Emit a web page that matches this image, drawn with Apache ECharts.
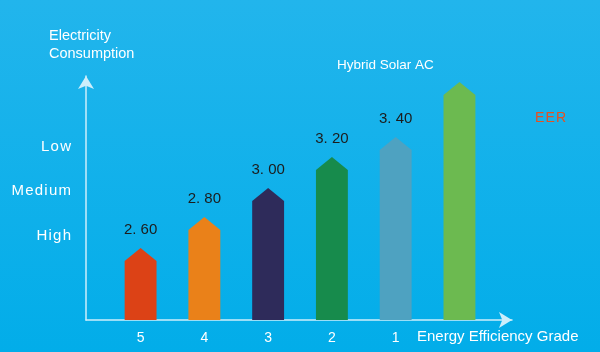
<!DOCTYPE html>
<html>
<head>
<meta charset="utf-8">
<script src="https://cdn.jsdelivr.net/npm/echarts@6/dist/echarts.min.js"></script>
<style>
    html, body { margin: 0; padding: 0; }
    #chart { width: 600px; height: 352px; }
</style>
</head>
<body>
<div id="chart"></div>
<script>
    // energy efficiency grades, left to right
    const grades = ['5', '4', '3', '2', '1', 'Hybrid Solar AC'];
    // arrow tip height of each bar (axis units)
    const peakHeights = [72, 103, 132, 163, 183, 238];
    const eerLabels = ['2. 60', '2. 80', '3. 00', '3. 20', '3. 40', ''];
    const barColors = ['#dc4216', '#ea8119', '#2e2b5a', '#178b4c', '#4ea2c1', '#6cba50'];
    // consumption levels on the y axis
    const levelValues = [84, 129, 173];
    const levelNames = ['H\u200ai\u200ag\u200ah', 'M\u200ae\u200ad\u200ai\u200au\u200am', 'L\u200ao\u200aw'];

    const font = '"Liberation Sans", Arial, sans-serif';
    const tipHeight = 13;
    const barWidth = 0.5;

    let chart = echarts.init(document.getElementById('chart'));

    let seriesData = grades.map((g, i) => [i, peakHeights[i], eerLabels[i]]);

    chart.setOption({
        backgroundColor: new echarts.graphic.LinearGradient(0, 0, 0, 1, [
            {offset: 0, color: '#22b5ec'},
            {offset: 1, color: '#02ade9'}
        ]),
        grid: {left: 86, right: 88, top: 76, bottom: 32},
        xAxis: {
            type: 'value',
            min: -0.856,
            max: 5.824,
            splitLine: {show: false},
            axisTick: {show: false},
            axisLine: {
                show: true,
                onZero: false,
                symbol: ['none', 'arrow'],
                symbolSize: [12, 13],
                lineStyle: {color: '#cdeefb', width: 1.5}
            },
            axisLabel: {
                customValues: [0, 1, 2, 3, 4],
                formatter: function (v) { return grades[Math.round(v)]; },
                color: '#ffffff',
                fontSize: 14,
                fontFamily: font,
                margin: 11
            }
        },
        yAxis: {
            type: 'value',
            min: 0,
            max: 244,
            splitLine: {show: false},
            axisTick: {show: false},
            axisLine: {
                show: true,
                onZero: false,
                symbol: ['none', 'arrow'],
                symbolSize: [12, 13],
                lineStyle: {color: '#cdeefb', width: 1.5}
            },
            axisLabel: {
                customValues: levelValues,
                formatter: function (v) { return levelNames[levelValues.indexOf(v)]; },
                color: '#ffffff',
                fontSize: 15,
                fontFamily: font,
                margin: 15
            }
        },
        graphic: [
            {type: 'text', left: 49, top: 27, style: {text: 'Electricity\nConsumption', fill: '#fff', font: '14.5px ' + font, lineHeight: 18}},
            {type: 'text', left: 337, top: 58, style: {text: 'Hybrid Solar AC', fill: '#fff', font: '13.5px ' + font}},
            {type: 'text', left: 535, top: 111, style: {text: 'E\u200aE\u200aR', fill: '#e8501f', font: '14px ' + font}},
            {type: 'text', left: 417, top: 329, style: {text: 'Energy Efficiency Grade', fill: '#fff', font: '15px ' + font}}
        ],
        series: [{
            type: 'custom',
            encode: {x: 0, y: 1},
            data: seriesData,
            renderItem: function (params, api) {
                let idx = params.dataIndex;
                let base = api.coord([api.value(0), 0]);
                let peak = api.coord([api.value(0), api.value(1)]);
                let w = api.size([barWidth, 0])[0];
                let x0 = base[0] - w / 2, x1 = base[0] + w / 2;
                let shoulder = peak[1] + tipHeight;
                return {
                    type: 'group',
                    children: [{
                        type: 'polygon',
                        shape: {points: [[x0, base[1]], [x0, shoulder], [peak[0], peak[1]], [x1, shoulder], [x1, base[1]]]},
                        style: {fill: barColors[idx]}
                    }, {
                        type: 'text',
                        style: {
                            text: eerLabels[idx],
                            x: peak[0],
                            y: peak[1] - 18,
                            align: 'center',
                            verticalAlign: 'middle',
                            fill: '#1c1c1c',
                            font: '15px ' + font
                        }
                    }]
                };
            }
        }]
    });
</script>
</body>
</html>
